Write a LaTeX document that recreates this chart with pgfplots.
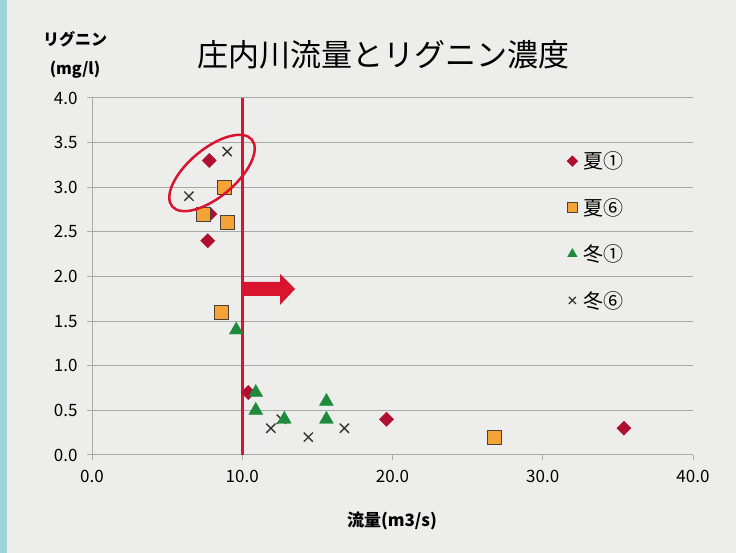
\documentclass[border=0pt]{standalone}
\usepackage{fontspec}
\setmainfont{Noto Sans CJK JP}
\usepackage{pgfplots}
\pgfplotsset{compat=1.18}
\definecolor{bg}{HTML}{EDEDEB}
\definecolor{strip}{HTML}{9ED3DA}
\definecolor{gridgray}{HTML}{A9A9A9}
\definecolor{dred}{HTML}{B01030}
\definecolor{sqorange}{HTML}{F5A236}
\definecolor{sqedge}{HTML}{4A4038}
\definecolor{tgreen}{HTML}{1E8A3C}
\definecolor{xgray}{HTML}{333333}
\definecolor{annred}{HTML}{D8142E}

\pgfplotstableread{
x y
7.8 3.3
7.85 2.7
7.7 2.4
10.4 0.7
19.6 0.4
35.4 0.3
}\summerA
\pgfplotstableread{
x y
8.85 3.0
7.4 2.7
9.05 2.6
8.65 1.6
26.8 0.2
}\summerB
\pgfplotstableread{
x y
9.6 1.4
10.9 0.7
10.9 0.5
12.8 0.4
15.6 0.6
15.6 0.4
}\winterA
\pgfplotstableread{
x y
9.0 3.4
6.45 2.9
11.9 0.3
12.6 0.4
14.4 0.2
16.8 0.3
}\winterB

\begin{document}
\begin{tikzpicture}[x=1pt,y=1pt]
\path[use as bounding box, fill=bg] (0,0) rectangle (736,553);
\fill[strip] (0,0) rectangle (7,553);
\begin{axis}[
  at={(92pt,98pt)}, anchor=south west,
  scale only axis, width=601pt, height=357pt,
  xmin=0, xmax=40, ymin=0, ymax=4,
  xtick={0,10,20,30,40},
  ytick={0,0.5,1,1.5,2,2.5,3,3.5,4},
  /pgf/number format/.cd, fixed, fixed zerofill, precision=1, assume math mode=true,
  /pgfplots/.cd,
  ymajorgrids,
  grid style={gridgray, line width=1pt},
  axis x line*=bottom, axis y line*=left,
  axis line style={gridgray, line width=1pt, -},
  tick style={gridgray, line width=1pt},
  tick align=outside, major tick length=5pt,
  ticklabel style={font=\fontsize{17}{17}\selectfont, text=black},
  xticklabel style={yshift=-7pt},
  yticklabel style={xshift=-6pt},
  clip=false,
  legend style={at={(0.79,0.855)}, anchor=north west, draw=none, fill=none,
    font=\fontsize{20}{20}\selectfont, row sep=24pt, inner sep=0pt},
  legend cell align=left,
  legend image code/.code={\draw[#1] plot coordinates {(5pt,0pt)};},
]
\addplot[only marks, mark=square*, mark size=5pt, mark options={rotate=45, fill=dred, draw=dred}, forget plot] table {\summerA};
\addplot[only marks, mark=square*, mark size=7pt, mark options={fill=sqorange, draw=sqedge, line width=1pt}, forget plot] table {\summerB};
\addplot[only marks, mark=x, mark size=6.5pt, mark options={draw=xgray, line width=1.4pt}, forget plot] table {\winterB};
\addplot[only marks, mark=triangle*, mark size=8pt, mark options={fill=tgreen, draw=tgreen}, forget plot] table {\winterA};
\addplot[annred, line width=3pt, forget plot] coordinates {(10,0) (10,4)};

\addlegendimage{only marks, mark=square*, mark size=3.8pt, mark options={rotate=45, fill=dred, draw=dred}}
\addlegendentry{\hspace{4pt}夏①}
\addlegendimage{only marks, mark=square*, mark size=5pt, mark options={fill=sqorange, draw=sqedge, line width=0.8pt}}
\addlegendentry{\hspace{4pt}夏⑥}
\addlegendimage{only marks, mark=triangle*, mark size=5.5pt, mark options={fill=tgreen, draw=tgreen}}
\addlegendentry{\hspace{4pt}冬①}
\addlegendimage{only marks, mark=x, mark size=5pt, mark options={draw=xgray, line width=1.2pt}}
\addlegendentry{\hspace{4pt}冬⑥}
\end{axis}
% annotations
\draw[annred, line width=2.5pt, rotate around={40:(212,380)}] (212,380) ellipse (52 and 24);
\fill[annred] (243,271) -- (280,271) -- (280,279) -- (295,264) -- (280,248) -- (280,257) -- (243,257) -- cycle;
% texts
\node[font=\fontsize{31}{31}\selectfont] at (383,498) {庄内川流量とリグニン濃度};
\node[font=\fontsize{16}{16}\selectfont\bfseries] at (75,514) {リグニン};
\node[font=\fontsize{16}{16}\selectfont\bfseries] at (75,483) {(mg/l)};
\node[font=\fontsize{17}{17}\selectfont\bfseries] at (392,32) {流量(m3/s)};
\end{tikzpicture}
\end{document}
